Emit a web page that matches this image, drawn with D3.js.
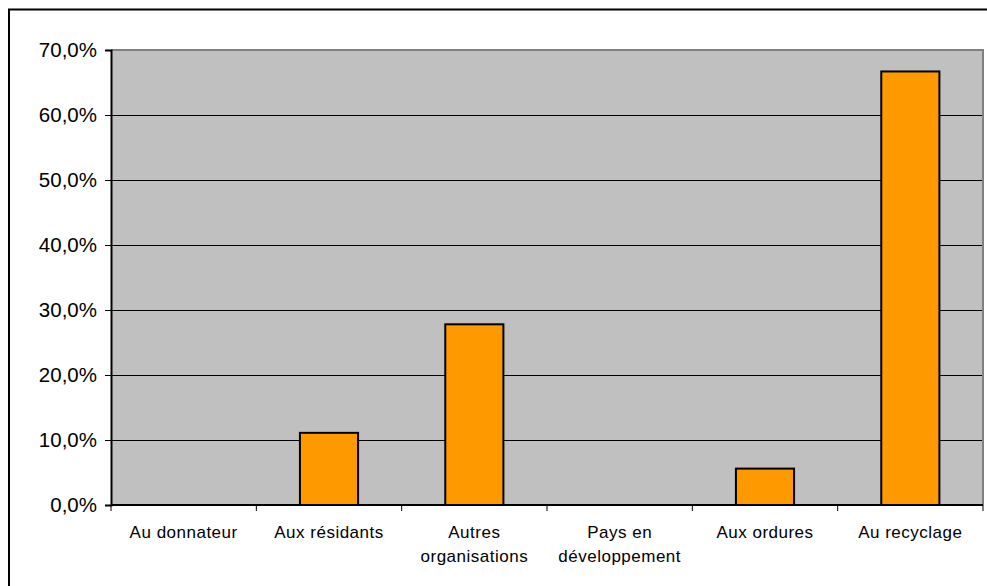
<!DOCTYPE html>
<html>
<head>
<meta charset="utf-8">
<script src="https://cdn.jsdelivr.net/npm/d3@7"></script>
<style>
  html, body { margin: 0; padding: 0; background: #fff; }
  svg { display: block; }
  text { font-family: "Liberation Sans", Arial, sans-serif; fill: #000; }
</style>
</head>
<body>
<svg id="chart" width="987" height="586"></svg>
<script>
const categories = [
  ["Au donnateur"],
  ["Aux résidants"],
  ["Autres", "organisations"],
  ["Pays en", "développement"],
  ["Aux ordures"],
  ["Au recyclage"]
];
const values = [0, 11.1, 27.8, 0, 5.6, 66.7];
const yTicks = [0, 10, 20, 30, 40, 50, 60, 70];

const svg = d3.select("#chart");
const W = 987, H = 586;
const plot = { left: 111, right: 983, top: 50, bottom: 505 };

// outer chart frame (extends beyond right/bottom edges)
svg.append("rect")
  .attr("x", 9).attr("y", 9.5)
  .attr("width", W + 20).attr("height", H + 20)
  .attr("fill", "#fff").attr("stroke", "#000").attr("stroke-width", 2);

const x = d3.scaleBand()
  .domain(d3.range(categories.length))
  .range([plot.left, plot.right])
  .padding(0);

const y = d3.scaleLinear()
  .domain([0, 70])
  .range([plot.bottom, plot.top]);

// plot area background
svg.append("rect")
  .attr("x", plot.left).attr("y", plot.top)
  .attr("width", plot.right - plot.left).attr("height", plot.bottom - plot.top)
  .attr("fill", "#C0C0C0");

// gridlines
svg.append("g")
  .selectAll("line")
  .data(yTicks.filter(t => t > 0 && t < 70))
  .join("line")
  .attr("x1", plot.left).attr("x2", plot.right)
  .attr("y1", d => Math.round(y(d)) + 0.5).attr("y2", d => Math.round(y(d)) + 0.5)
  .attr("stroke", "#000").attr("stroke-width", 1);

// plot border top/right (gray)
svg.append("path")
  .attr("d", `M${plot.left},${plot.top} H${plot.right} V${plot.bottom}`)
  .attr("fill", "none").attr("stroke", "#808080").attr("stroke-width", 2);

// bars
const barFrac = 0.4;
const barData = values.map((v, i) => ({ v, i })).filter(d => d.v > 0);
svg.append("g")
  .selectAll("rect")
  .data(barData)
  .join("rect")
  .attr("x", d => x(d.i) + x.bandwidth() * (1 - barFrac) / 2)
  .attr("y", d => y(d.v))
  .attr("width", x.bandwidth() * barFrac)
  .attr("height", d => y(0) - y(d.v))
  .attr("fill", "#FF9900")
  .attr("stroke", "#000")
  .attr("stroke-width", 2);

// y axis
const loc = d3.formatLocale({ decimal: ",", thousands: " ", grouping: [3], currency: ["", "€"] });
const fmt = loc.format(".1f");
const yAxis = d3.axisLeft(y)
  .tickValues(yTicks)
  .tickSize(6)
  .tickPadding(8)
  .tickFormat(d => fmt(d) + "%");
const yg = svg.append("g")
  .attr("transform", `translate(${plot.left},0)`)
  .call(yAxis);
yg.select(".domain").attr("stroke", "#000").attr("stroke-width", 2);
yg.selectAll(".tick line").attr("stroke", "#000");
yg.selectAll(".tick text")
  .style("font-family", '"Liberation Sans", Arial, sans-serif')
  .style("font-size", "20.5px")
  .attr("fill", "#000");

// x axis line + ticks at category boundaries
const boundaries = d3.range(categories.length + 1).map(i =>
  i < categories.length ? x(i) : plot.right);
const xg = svg.append("g");
xg.append("line")
  .attr("x1", plot.left).attr("x2", plot.right)
  .attr("y1", plot.bottom).attr("y2", plot.bottom)
  .attr("stroke", "#000").attr("stroke-width", 2);
xg.selectAll("line.tk")
  .data(boundaries)
  .join("line")
  .attr("class", "tk")
  .attr("x1", d => d).attr("x2", d => d)
  .attr("y1", plot.bottom).attr("y2", plot.bottom + 6)
  .attr("stroke", "#000").attr("stroke-width", 1);

// x labels
const lbl = svg.append("g");
categories.forEach((lines, i) => {
  const cx = x(i) + x.bandwidth() / 2;
  const t = lbl.append("text")
    .attr("x", cx)
    .attr("y", 538)
    .attr("text-anchor", "middle")
    .style("font-size", "17px")
    .style("letter-spacing", "0.5px");
  lines.forEach((ln, j) => {
    t.append("tspan")
      .attr("x", cx)
      .attr("dy", j === 0 ? 0 : 24)
      .text(ln);
  });
});
</script>
</body>
</html>
